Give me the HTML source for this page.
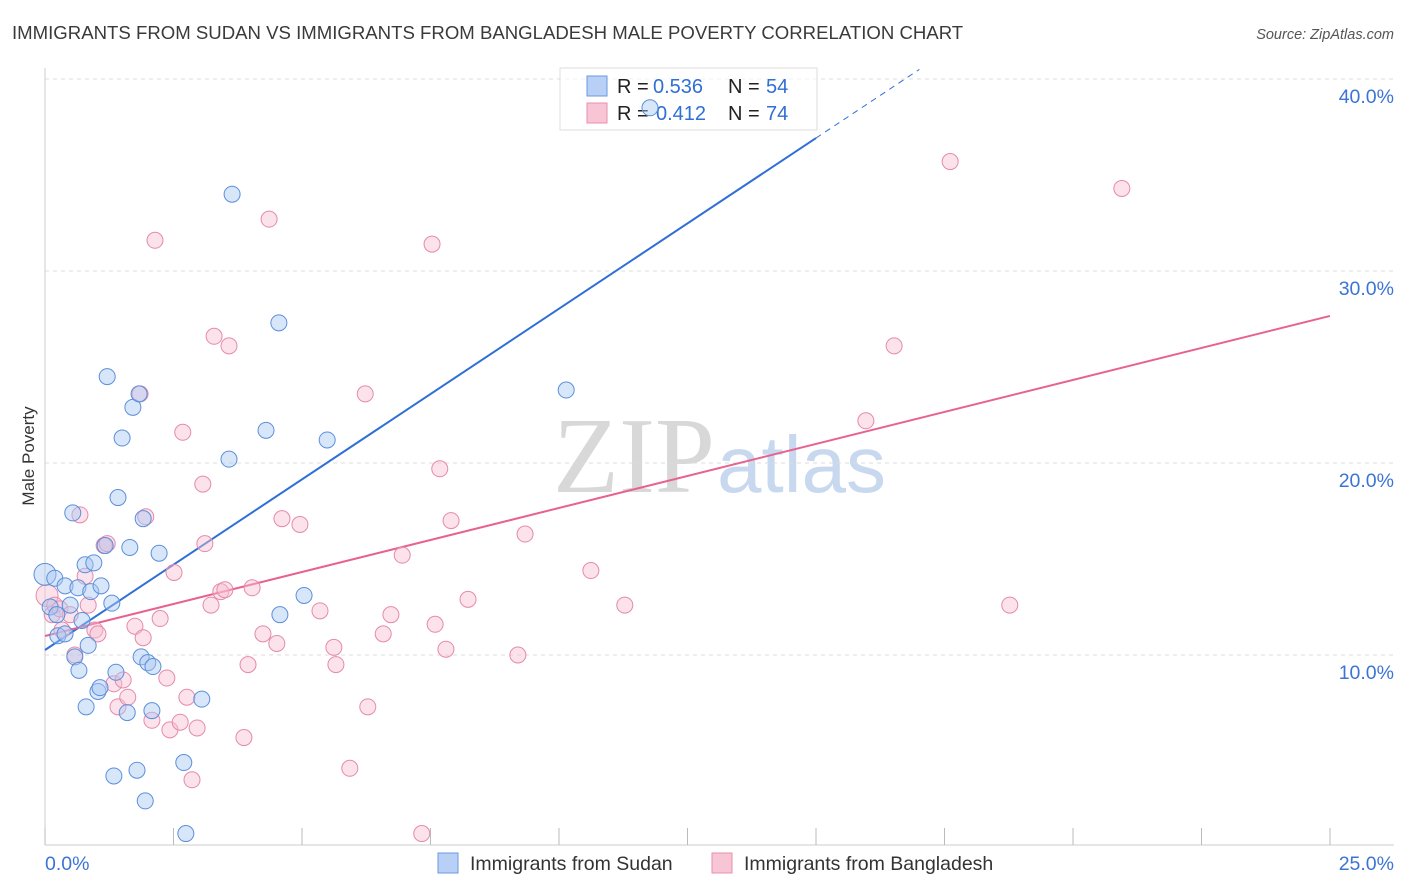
<!DOCTYPE html>
<html><head><meta charset="utf-8"><style>
body{margin:0;background:#fff;font-family:"Liberation Sans",sans-serif;}
#c{position:relative;width:1406px;height:892px;overflow:hidden;}
</style></head><body>
<div id="c">
<svg id="s" width="1406" height="892">
<text x="12" y="39" font-size="18.6" fill="#3a3a3a">IMMIGRANTS FROM SUDAN VS IMMIGRANTS FROM BANGLADESH MALE POVERTY CORRELATION CHART</text>
<text x="1394" y="39" font-size="14.5" fill="#555" font-style="italic" text-anchor="end">Source: ZipAtlas.com</text>
<text x="34" y="456" font-size="17" fill="#333" text-anchor="middle" transform="rotate(-90 34 456)">Male Poverty</text>
<text x="553" y="492" font-size="108" fill="#d8d8d8" font-family="Liberation Serif">ZIP</text>
<text x="717" y="492" font-size="80" fill="#c8d8ef">atlas</text>
<g id="grid"></g><g id="lines"></g>
<g>
<rect x="560" y="68" width="257" height="62" fill="#fff" fill-opacity="0.6" stroke="#ddd"/>
<rect x="587" y="76" width="20" height="20" fill="#b8d0f5" stroke="#6a9ae0"/>
<rect x="587" y="103" width="20" height="20" fill="#f8c5d5" stroke="#e98fb0"/>
<text x="617" y="93" font-size="20" fill="#222">R =</text><text x="653" y="93" font-size="20" fill="#2f6fd6">0.536</text>
<text x="728" y="93" font-size="20" fill="#222">N =</text><text x="766" y="93" font-size="20" fill="#2f6fd6">54</text>
<text x="617" y="120" font-size="20" fill="#222">R =</text><text x="656" y="120" font-size="20" fill="#2f6fd6">0.412</text>
<text x="728" y="120" font-size="20" fill="#222">N =</text><text x="766" y="120" font-size="20" fill="#2f6fd6">74</text>
</g>
<g id="pts"></g>
<g>
<rect x="438" y="853" width="20" height="20" fill="#b8d0f5" stroke="#6a9ae0"/>
<text x="470" y="870" font-size="19.5" fill="#333">Immigrants from Sudan</text>
<rect x="712" y="853" width="20" height="20" fill="#f8c5d5" stroke="#e98fb0"/>
<text x="744" y="870" font-size="19.5" fill="#333">Immigrants from Bangladesh</text>
</g>
</svg>
</div>
<script>
const yTicks=[10,20,30,40];
const yTickLabels=["10.0%","20.0%","30.0%","40.0%"];
const xTickLabels=["0.0%","25.0%"];
const sudanX=[0,0.19,0.1,0.23,0.39,0.49,0.64,0.25,0.39,0.54,0.58,0.66,0.72,0.78,0.84,0.8,0.89,0.95,1.03,1.09,1.07,1.17,1.21,1.3,1.38,1.34,1.42,1.5,1.6,1.65,1.71,1.79,1.83,1.87,1.91,1.95,2.0,2.08,2.1,2.22,2.7,2.74,3.05,3.58,3.64,4.3,4.55,4.57,5.04,5.49,10.14,11.77];
const sudanY=[14.2,14.0,12.5,12.1,13.6,12.6,13.5,11.0,11.1,17.4,9.9,9.2,11.8,14.7,10.5,7.3,13.3,14.8,8.1,13.6,8.3,15.7,24.5,12.7,9.1,3.7,18.2,21.3,7.0,15.6,22.9,4.0,23.6,9.9,17.1,2.4,9.6,7.1,9.4,15.3,4.4,0.7,7.7,20.2,34.0,21.7,27.3,12.1,13.1,21.2,23.8,38.5];
const bangX=[0.04,0.14,0.19,0.29,0.33,0.49,0.58,0.68,0.78,0.84,0.97,1.03,1.15,1.21,1.34,1.42,1.52,1.61,1.75,1.85,1.91,1.96,2.08,2.14,2.24,2.37,2.51,2.43,2.63,2.68,2.76,2.86,2.96,3.07,3.11,3.23,3.29,3.42,3.5,3.58,3.87,3.95,4.03,4.24,4.36,4.51,4.61,4.96,5.35,5.62,5.66,5.93,6.23,6.28,6.58,6.73,6.95,7.33,7.53,7.59,7.68,7.8,7.9,8.23,9.2,9.34,10.62,11.28,15.97,16.52,17.61,18.77,20.95];
const bangY=[13.1,12.1,12.6,12.4,11.3,12.1,10.0,17.3,14.1,12.6,11.3,11.1,15.7,15.8,8.5,7.3,8.7,7.8,11.5,23.6,10.9,17.2,6.6,31.6,11.9,8.8,14.3,6.1,6.5,21.6,7.8,3.5,6.2,18.9,15.8,12.6,26.6,13.3,13.4,26.1,5.7,9.5,13.5,11.1,32.7,10.6,17.1,16.8,12.3,10.4,9.5,4.1,23.6,7.3,11.1,12.1,15.2,0.7,31.4,11.6,19.7,10.3,17.0,12.9,10.0,16.3,14.4,12.6,22.2,26.1,35.7,12.6,34.3];
const sudanLine=[10.26,54.7];
const bangLine=[10.99,27.66];
const X=v=>45+v*51.4, Y=v=>847-v*19.2;
const NS="http://www.w3.org/2000/svg";
function mk(t,a,p){const e=document.createElementNS(NS,t);for(const k in a)e.setAttribute(k,a[k]);p.appendChild(e);return e;}
const g=document.getElementById('grid');
yTicks.forEach((v,i)=>{
 const l=mk('line',{x1:45,x2:1394,y1:Y(v),y2:Y(v),stroke:'#ddd','stroke-dasharray':'4,4'},g);
 
 
 const t=mk('text',{x:1394,y:Y(v)+24,'font-size':19.5,fill:'#3c74d4','text-anchor':'end'},g);t.textContent=yTickLabels[i];
 
 
});
mk('line',{x1:45,x2:1394,y1:845,y2:845,stroke:'#ccc'},g);
mk('line',{x1:45,x2:45,y1:68,y2:845,stroke:'#ccc'},g);
for(let i=0;i<=10;i++){const tk=mk('line',{x1:X(i*2.5),x2:X(i*2.5),y1:828,y2:845,stroke:'#bbb'},g);
 
 }
const t0=mk('text',{x:45,y:870,'font-size':19.5,fill:'#3c74d4'},g);t0.textContent=xTickLabels[0];


const t1=mk('text',{x:1394,y:870,'font-size':19.5,fill:'#3c74d4','text-anchor':'end'},g);t1.textContent=xTickLabels[1];


const pg=document.getElementById('pts');
function pts(xs,ys,fill,stroke,name){xs.forEach((x,i)=>{
 const c=mk('circle',{cx:X(x),cy:Y(ys[i]),r:i==0?11:8,fill:fill,'fill-opacity':0.45,stroke:stroke,'stroke-width':1},pg);
 
 });}
pts(bangX,bangY,'#f7bfd2','#e68aab','point-bangladesh');
pts(sudanX,sudanY,'#a9c7f2','#5b8fdb','point-sudan');
const lg=document.getElementById('lines');
const sl=(sudanLine[1]-sudanLine[0])/25;
const xs=15;
const b1=mk('line',{x1:X(0),y1:Y(sudanLine[0]),x2:X(xs),y2:Y(sudanLine[0]+sl*xs),stroke:'#2f6fd6','stroke-width':2},lg);


const xe=(40.5-sudanLine[0])/sl;
const b2=mk('line',{x1:X(xs),y1:Y(sudanLine[0]+sl*xs),x2:X(xe),y2:Y(40.5),stroke:'#2f6fd6','stroke-width':1,'stroke-dasharray':'6,5'},lg);


const p1=mk('line',{x1:X(0),y1:Y(bangLine[0]),x2:X(25),y2:Y(bangLine[1]),stroke:'#e8628f','stroke-width':2},lg);


</script>
</body></html>
